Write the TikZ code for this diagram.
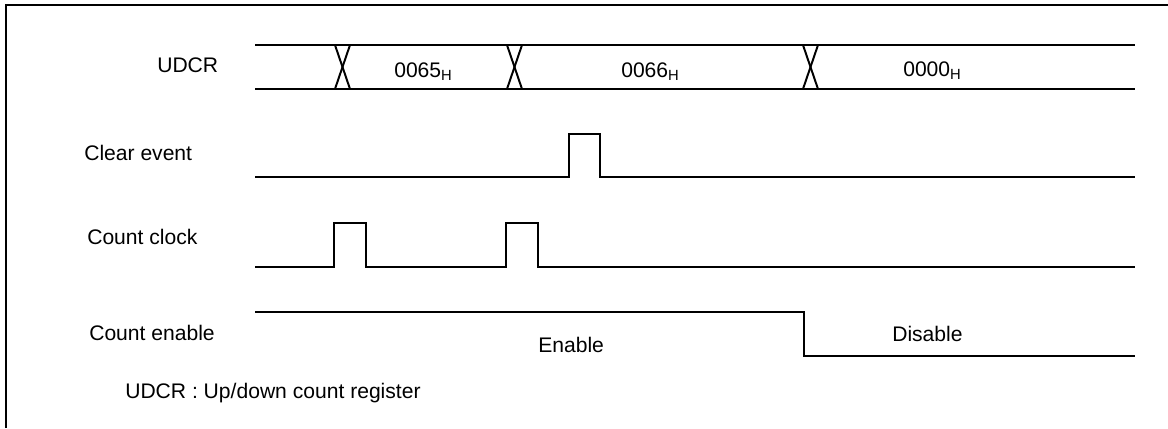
\documentclass[tikz,border=0pt]{standalone}
\usepackage{fontspec}
\setmainfont{Liberation Sans}
\tikzset{
  wave/.style={line width=1.4pt},
  lbl/.style={anchor=base west, inner sep=0pt, font=\fontsize{15}{18}\selectfont}
}
\begin{document}
\begin{tikzpicture}
        \useasboundingbox (0, 0) rectangle (29.2, -10.7);
        % Cadre
        \draw [wave] (0.15, -10.7) -- (0.15, -0.125) -- (29.2, -0.125);

        % Noms des signaux
        \node [lbl] (udcr) at (3.925, -1.81) {UDCR};
        \node [lbl] (clr) at (2.1, -4.01) {Clear event};
        \node [lbl] (clk) at (2.175, -6.11) {Count clock};
        \node [lbl] (en) at (2.225, -8.51) {Count enable};

        % UDCR (bus)
        \draw [wave] (6.375, -1.125) -- (28.375, -1.125);
        \draw [wave] (6.375, -2.225) -- (28.375, -2.225);
        \foreach \x in {8.375, 12.675, 20.075} {
            \draw [wave] (\x, -1.125) -- (\x+0.375, -2.225);
            \draw [wave] (\x, -2.225) -- (\x+0.375, -1.125);
        }
        \node [lbl] (v65) at (9.85, -1.94) {0065\textsubscript{H}};
        \node [lbl] (v66) at (15.525, -1.94) {0066\textsubscript{H}};
        \node [lbl] (v00) at (22.575, -1.92) {0000\textsubscript{H}};

        % Clear event
        \draw [wave] (6.375, -4.425) -- (14.225, -4.425) -- (14.225, -3.35)
            -- (15.0, -3.35) -- (15.0, -4.425) -- (28.375, -4.425);

        % Count clock
        \draw [wave] (6.375, -6.675) -- (8.35, -6.675) -- (8.35, -5.575)
            -- (9.15, -5.575) -- (9.15, -6.675) -- (12.65, -6.675)
            -- (12.65, -5.575) -- (13.45, -5.575) -- (13.45, -6.675)
            -- (28.375, -6.675);

        % Count enable
        \draw [wave] (6.375, -7.8) -- (20.1, -7.8) -- (20.1, -8.9) -- (28.375, -8.9);
        \node [lbl] (ena) at (13.45, -8.81) {Enable};
        \node [lbl] (dis) at (22.3, -8.54) {Disable};

        % Note
        \node [lbl] (note) at (3.125, -9.95) {UDCR : Up/down count register};
\end{tikzpicture}
\end{document}
